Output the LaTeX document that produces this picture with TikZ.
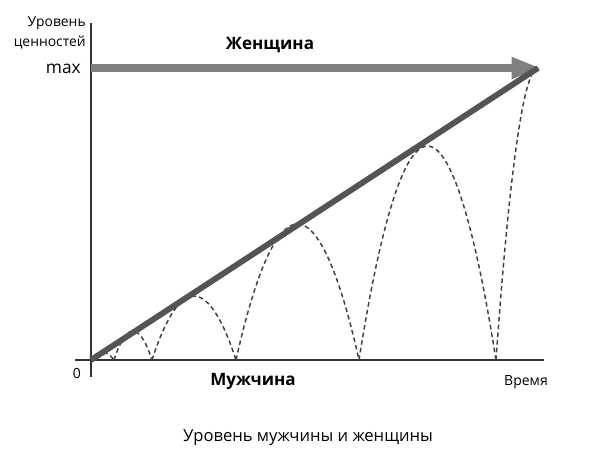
\documentclass[tikz,border=0pt]{standalone}
\usepackage{fontspec}
\setmainfont{Open Sans}
\usetikzlibrary{arrows.meta}

\begin{document}
\begin{tikzpicture}[x=0.75pt,y=-0.75pt]

\tikzset{axis/.style = {draw=black!80,line width=1.3pt}}
\tikzset{bounce/.style = {draw=black!75,line width=1.1pt,dash pattern=on 3.4pt off 2.4pt}}
\tikzset{label/.style = {inner sep=0pt,font=\fontsize{10.4}{15}\selectfont}}
\tikzset{title/.style = {inner sep=0pt,font=\fontsize{12.8}{14}\selectfont\bfseries}}

\useasboundingbox (0,0) rectangle (600,472);

% axes
\coordinate (o) at (91,360);
\coordinate (ytop) at (91,23);
\coordinate (ybot) at (91,377);
\coordinate (xl) at (75,360);
\coordinate (xr) at (544,360);
\coordinate (apex) at (538,68);
\coordinate (maxl) at (91,68);
\coordinate (maxr) at (541,68);

\draw[axis] (ybot) -- (ytop);
\draw[axis] (xl) -- (xr);

% bounces
\draw[bounce] (o) parabola bend (102,352) (114,360);
\draw[bounce] (114,360) parabola bend (133,331) (152,360);
\draw[bounce] (152,360) parabola bend (194,296) (236,360);
\draw[bounce] (236,360) parabola bend (297.5,224) (359,360);
\draw[bounce] (359,360) parabola bend (427.5,146) (496,360);
\draw[bounce] (496,360) parabola[bend at end] (apex);

% woman arrow and rising line
\draw[draw=black!50,line width=5.4pt,-{Triangle[length=22pt,width=15pt]}] (maxl) -- (maxr);
\draw[draw=black!67,line width=4.4pt] (o) -- (apex);

\node[label,align=right,anchor=east] (ylab) at (86,33) {Уровень\\ценностей};
\node[label,anchor=east,font=\fontsize{13}{15}\selectfont] (max) at (81,69) {max};
\node[label,font=\fontsize{10.5}{15}\selectfont] (zero) at (77,373) {0};
\node[label,font=\fontsize{10.5}{15}\selectfont] (time) at (526,382) {Время};
\node[title] (woman) at (270,45) {Женщина};
\node[title] (man) at (253,381) {Мужчина};
\node[inner sep=0pt,font=\fontsize{12.45}{14}\selectfont] (caption) at (308,438) {Уровень мужчины и женщины};

\end{tikzpicture}
\end{document}
